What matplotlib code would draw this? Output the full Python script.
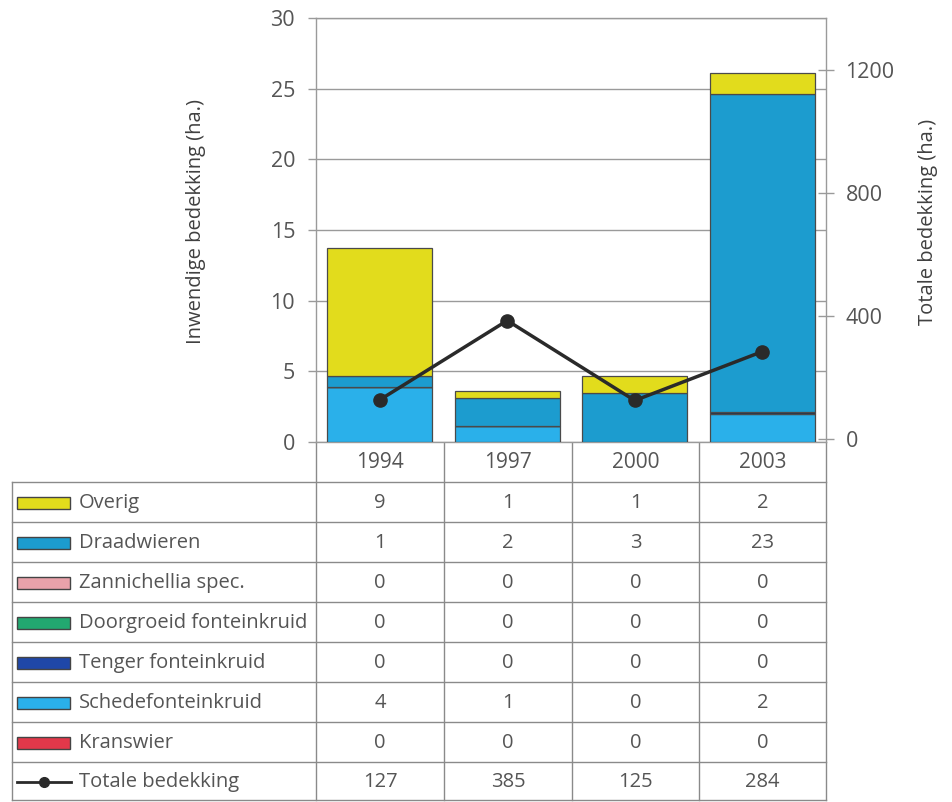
import matplotlib
matplotlib.use("Agg")
import matplotlib.pyplot as plt
from matplotlib.patches import Rectangle
import numpy as np

plt.rcParams['font.family'] = ['Open Sans', 'DejaVu Sans']

years = ["1994", "1997", "2000", "2003"]

# bar segment values (ha.)
kranswier    = [0.0, 0.0, 0.0, 0.0]
schede       = [3.86, 1.1, 0.0, 1.95]
tenger       = [0.0, 0.0, 0.0, 0.15]
doorgroeid   = [0.0, 0.0, 0.0, 0.0]
zannichellia = [0.0, 0.0, 0.0, 0.0]
draadwieren  = [0.82, 2.0, 3.5, 22.5]
overig       = [9.02, 0.48, 1.18, 1.5]
totale       = [127, 385, 125, 284]

# table values as printed
tbl_overig = ["9", "1", "1", "2"]
tbl_draad = ["1", "2", "3", "23"]
tbl_zann = ["0", "0", "0", "0"]
tbl_door = ["0", "0", "0", "0"]
tbl_tenger = ["0", "0", "0", "0"]
tbl_schede = ["4", "1", "0", "2"]
tbl_krans = ["0", "0", "0", "0"]
tbl_totale = ["127", "385", "125", "284"]

row_labels = ["Overig", "Draadwieren", "Zannichellia spec.", "Doorgroeid fonteinkruid",
              "Tenger fonteinkruid", "Schedefonteinkruid", "Kranswier", "Totale bedekking"]

c_overig = "#e2dc1c"
c_draad = "#1c9ccf"
c_zann = "#e9a2aa"
c_door = "#22a870"
c_tenger = "#1f47a8"
c_schede = "#2ab0ea"
c_krans = "#e2384a"
c_tenger_bar = "#162a4a"

W, H = 953, 802
fig = plt.figure(figsize=(W / 100, H / 100), dpi=100)

txt = "#555555"
gridc = "#9a9a9a"

# main axes (pixel box: x 316..826, y 18..442)
ax = fig.add_axes([316 / W, 1 - 442 / H, 510 / W, 424 / H])
x = np.arange(len(years))
stack = [(kranswier, c_krans), (schede, c_schede), (tenger, c_tenger_bar),
         (doorgroeid, c_door), (zannichellia, c_zann), (draadwieren, c_draad),
         (overig, c_overig)]
bottom = np.zeros(len(years))
for vals, col in stack:
    v = np.array(vals)
    ax.bar(x, v, bottom=bottom, width=0.82, color=col, edgecolor="#4a4a4a",
           linewidth=0.9, zorder=3)
    bottom += v
ax.set_xlim(-0.5, 3.5)
ax.set_ylim(0, 30)
ax.set_yticks([0, 5, 10, 15, 20, 25, 30])
ax.set_xticks([])
ax.yaxis.grid(True, color=gridc, linewidth=1.0, zorder=0)
ax.set_axisbelow(True)
ax.tick_params(axis='y', direction='out', length=6, width=1, color=gridc,
               labelsize=15.5, labelcolor=txt, pad=9)
for s in ax.spines.values():
    s.set_color(gridc)
    s.set_linewidth(1.0)
ax.set_ylabel("Inwendige bedekking (ha.)", fontsize=14.5, color="#404040")
ax.yaxis.set_label_coords(-0.215, 0.52)

ax2 = ax.twinx()
ax2.plot(x, totale, color="#2a2a2a", linewidth=2.5, marker="o", markersize=9.5,
         markerfacecolor="#2a2a2a", zorder=5)
ax2.set_ylim(-10, 1369)
ax2.set_yticks([0, 400, 800, 1200])
ax2.tick_params(axis='y', direction='inout', length=12, width=1, color=gridc,
                labelsize=15.5, labelcolor=txt, pad=8)
for s in ax2.spines.values():
    s.set_visible(False)
ax2.set_ylabel("Totale bedekking (ha.)", fontsize=14.5, color="#404040")
ax2.yaxis.set_label_coords(1.18, 0.52)

# table drawn in pixel coordinates
axt = fig.add_axes([0, 0, 1, 1], zorder=-1)
axt.set_xlim(0, W)
axt.set_ylim(H, 0)
axt.axis("off")
lc = "#8a8a8a"
col_edges = [316, 444, 572, 699, 826]
row_edges = [482, 522, 562, 602, 642, 682, 722, 762, 800]
left = 12
axt.plot([left, left], [row_edges[0], row_edges[-1]], color=lc, lw=1)
for ce in col_edges:
    axt.plot([ce, ce], [442, row_edges[-1]], color=lc, lw=1)
for re in row_edges:
    axt.plot([left, col_edges[-1]], [re, re], color=lc, lw=1)

centers = [(col_edges[i] + col_edges[i + 1]) / 2 for i in range(4)]
for yr, cx in zip(years, centers):
    axt.text(cx, 463, yr, ha="center", va="center", fontsize=15, color=txt)

table_rows = [tbl_overig, tbl_draad, tbl_zann, tbl_door, tbl_tenger, tbl_schede,
              tbl_krans, tbl_totale]
sw_colors = [c_overig, c_draad, c_zann, c_door, c_tenger, c_schede, c_krans, None]
for i, (lab, vals, swc) in enumerate(zip(row_labels, table_rows, sw_colors)):
    yc = (row_edges[i] + row_edges[i + 1]) / 2 + 1
    if swc is not None:
        axt.add_patch(Rectangle((17, yc - 6), 53, 12, facecolor=swc,
                                edgecolor="#444444", linewidth=1.0))
    else:
        axt.plot([17, 71], [yc, yc], color="#2a2a2a", lw=2)
        axt.plot([44], [yc], marker="o", color="#2a2a2a", markersize=7)
    axt.text(79, yc, lab, ha="left", va="center", fontsize=14.5, color=txt)
    for v, cx in zip(vals, centers):
        axt.text(cx, yc, v, ha="center", va="center", fontsize=14.5, color=txt)

fig.savefig("out.png", dpi=100)
